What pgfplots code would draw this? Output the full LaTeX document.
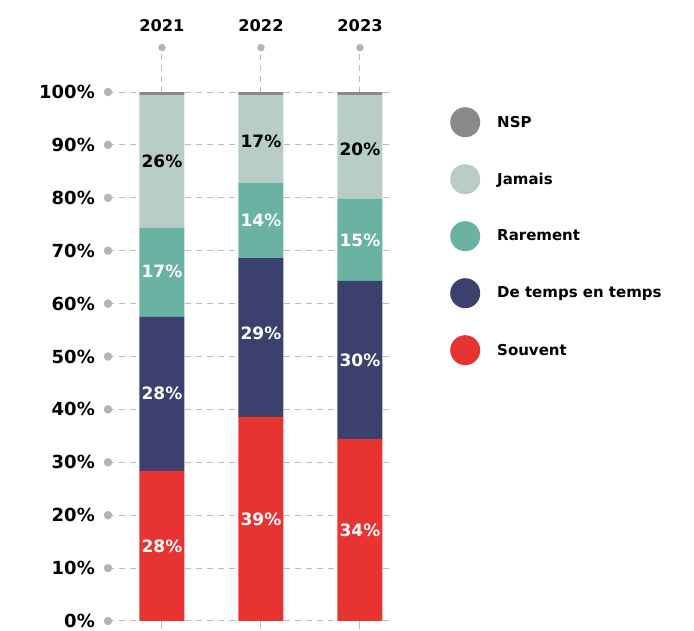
\documentclass[border=0pt]{standalone}
\usepackage{pgfplots}
\pgfplotsset{compat=1.18}
\usepackage{fontspec}
\setmainfont{DejaVu Sans}
\definecolor{cnsp}{HTML}{8A8A8A}
\definecolor{cjam}{HTML}{B7CDC5}
\definecolor{crar}{HTML}{6AB2A2}
\definecolor{cdet}{HTML}{3B416C}
\definecolor{csou}{HTML}{E73331}
\definecolor{gridgray}{HTML}{BDBDBD}
\definecolor{dotgray}{HTML}{B5B5B5}
\begin{document}
\begin{tikzpicture}
\useasboundingbox (-108pt,-10pt) rectangle (586pt,621pt);
\begin{axis}[
  at={(0,0)}, anchor=south west,
  scale only axis, width=282pt, height=573.4pt,
  xmin=-0.545, xmax=2.303, ymin=0, ymax=108.4,
  ybar stacked, bar width=45pt,
  axis line style={draw=none},
  ytick={0,10,20,30,40,50,60,70,80,90,100},
  yticklabels={0\%,10\%,20\%,30\%,40\%,50\%,60\%,70\%,80\%,90\%,100\%},
  yticklabel style={anchor=east, inner sep=0pt, xshift=-5pt, font=\fontsize{18}{20}\selectfont\bfseries},
  ytick style={draw=none},
  xtick={0,1,2}, xticklabels={},
  xtick pos=left, tick align=outside, major tick length=8pt,
  xtick style={gridgray, line width=1pt},
  ymajorgrids, xmajorgrids,
  grid style={gridgray, line width=1pt, dash pattern=on 6pt off 5pt},
  legend style={at={(1.2128,0.8964)}, anchor=north west, draw=none, fill=none,
    inner sep=0pt, row sep=27pt, font=\fontsize{15}{18}\selectfont\bfseries,
    nodes={inner xsep=17pt}},
  legend cell align=left,
  legend image code/.code={\fill[#1] (0pt,0pt) circle (15pt);},
  reverse legend,
]
\addplot[fill=csou, draw=none] coordinates {(0,28.4) (1,38.6) (2,34.4)};
\addplot[fill=cdet, draw=none] coordinates {(0,29.1) (1,30.0) (2,29.9)};
\addplot[fill=crar, draw=none] coordinates {(0,16.8) (1,14.2) (2,15.5)};
\addplot[fill=cjam, draw=none] coordinates {(0,25.1) (1,16.6) (2,19.6)};
\addplot[fill=cnsp, draw=none] coordinates {(0,0.6) (1,0.6) (2,0.6)};
\legend{Souvent,De temps en temps,Rarement,Jamais,NSP}
\end{axis}
\begin{axis}[
  at={(0,0)}, anchor=south west,
  scale only axis, width=282pt, height=573.4pt,
  xmin=-0.545, xmax=2.303, ymin=0, ymax=108.4,
  hide axis, clip=false,
]
\addplot[only marks, mark=*, mark size=4pt, color=dotgray] coordinates {(-0.545,0) (-0.545,10) (-0.545,20) (-0.545,30) (-0.545,40) (-0.545,50) (-0.545,60) (-0.545,70) (-0.545,80) (-0.545,90) (-0.545,100)};
\addplot[only marks, mark=*, mark size=3.5pt, color=dotgray, nodes near coords, point meta=explicit symbolic,
  nodes near coords style={text=black, anchor=base, yshift=16pt, font=\fontsize{16.2}{18}\selectfont\bfseries}]
  coordinates {(0,108.4)[2021] (1,108.4)[2022] (2,108.4)[2023]};
\addplot[draw=none, mark=none, nodes near coords, point meta=explicit symbolic,
  nodes near coords style={text=white, anchor=center, font=\fontsize{17}{19}\selectfont\bfseries}]
  coordinates {(0,14.2)[28\%] (1,19.3)[39\%] (2,17.2)[34\%]
               (0,43.0)[28\%] (1,54.3)[29\%] (2,49.3)[30\%]
               (0,66.1)[17\%] (1,75.7)[14\%] (2,72.0)[15\%]};
\addplot[draw=none, mark=none, nodes near coords, point meta=explicit symbolic,
  nodes near coords style={text=black, anchor=center, font=\fontsize{17}{19}\selectfont\bfseries}]
  coordinates {(0,86.9)[26\%] (1,90.6)[17\%] (2,89.2)[20\%]};
\end{axis}
\end{tikzpicture}
\end{document}
